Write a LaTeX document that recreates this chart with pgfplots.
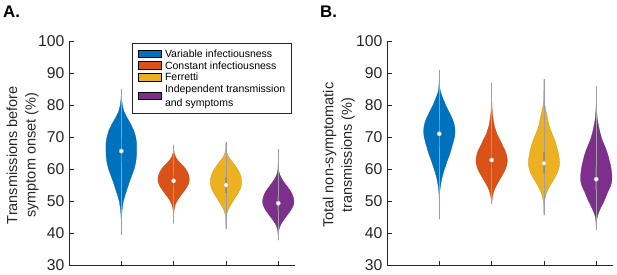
\documentclass[border=0pt]{standalone}
\usepackage{pgfplots}
\pgfplotsset{compat=1.18}
\usepackage{pgfplotstable}
\usepackage{fontspec}
\setmainfont{Liberation Sans}
\definecolor{vblue}{RGB}{0,114,189}
\definecolor{vorange}{RGB}{217,83,25}
\definecolor{vyellow}{RGB}{237,177,32}
\definecolor{vpurple}{RGB}{126,47,142}
\definecolor{axgray}{RGB}{38,38,38}

% Panel A violins: y, half-width
\pgfplotstableread{
y w
84.9 0
82 0.005
80 0.02
78 0.05
76 0.11
74 0.18
72 0.24
70 0.275
68 0.293
66 0.295
64 0.29
62 0.275
60 0.245
58 0.20
56 0.155
54 0.115
52 0.075
50 0.04
48 0.02
46 0.008
44 0.003
42 0.001
39.4 0
}\VAa
\pgfplotstableread{
y w
67.5 0
66 0.004
65 0.012
64 0.03
63 0.065
62 0.12
61 0.18
60 0.23
59 0.265
58 0.29
57 0.30
56 0.295
55 0.275
54 0.24
53 0.195
52 0.15
51 0.105
50 0.065
49 0.035
48 0.018
47 0.008
46 0.003
45 0.001
43 0
}\VAb
\pgfplotstableread{
y w
68.5 0
67 0.003
66 0.008
65 0.02
64 0.045
63 0.085
62 0.135
61 0.18
60 0.22
59 0.255
58 0.28
57 0.295
56 0.30
55 0.295
54 0.28
53 0.25
52 0.215
51 0.175
50 0.135
49 0.10
48 0.065
47 0.038
46 0.018
45 0.009
44 0.004
43 0.002
41.2 0
}\VAc
\pgfplotstableread{
y w
66.2 0
64 0.001
62 0.002
60 0.006
59 0.015
58 0.035
57 0.065
56 0.105
55 0.15
54 0.195
53 0.24
52 0.27
51 0.29
50 0.30
49 0.295
48 0.27
47 0.235
46 0.19
45 0.145
44 0.10
43 0.06
42 0.03
41 0.012
40 0.005
39 0.002
37.8 0
}\VAd
% Panel B violins
\pgfplotstableread{
y w
91.0 0
89 0.002
87 0.005
85 0.012
84 0.025
83 0.045
82 0.07
81 0.095
80 0.12
79 0.15
78 0.18
77 0.21
76 0.24
75 0.265
74 0.283
73 0.295
72 0.30
71 0.298
70 0.29
69 0.275
68 0.26
67 0.24
66 0.225
65 0.205
64 0.185
63 0.16
62 0.14
61 0.12
60 0.10
59 0.08
58 0.063
57 0.048
56 0.035
55 0.025
54 0.016
53 0.01
52 0.006
50 0.003
48 0.001
44.3 0
}\VBa
\pgfplotstableread{
y w
87 0
84 0.001
82 0.003
80 0.006
78 0.012
76 0.025
74 0.045
73 0.06
72 0.08
71 0.10
70 0.13
69 0.16
68 0.19
67 0.22
66 0.25
65 0.275
64 0.29
63 0.30
62 0.298
61 0.285
60 0.265
59 0.235
58 0.20
57 0.165
56 0.13
55 0.095
54 0.065
53 0.04
52 0.024
51 0.012
50 0.005
49.1 0
}\VBb
\pgfplotstableread{
y w
88.0 0
85 0.001
83 0.004
81 0.01
80 0.018
79 0.028
78 0.04
77 0.055
76 0.068
75 0.08
74 0.092
73 0.108
72 0.13
71 0.155
70 0.18
69 0.205
68 0.225
67 0.245
66 0.26
65 0.275
64 0.285
63 0.295
62 0.30
61 0.295
60 0.28
59 0.26
58 0.23
57 0.195
56 0.16
55 0.122
54 0.09
53 0.062
52 0.04
51 0.025
50 0.014
49 0.007
48 0.003
46 0.001
45.6 0
}\VBc
\pgfplotstableread{
y w
85.9 0
82 0.001
80 0.003
78 0.008
76 0.018
75 0.026
74 0.037
73 0.05
72 0.063
71 0.078
70 0.095
69 0.115
68 0.14
67 0.165
66 0.19
65 0.21
64 0.23
63 0.245
62 0.26
61 0.275
60 0.285
59 0.293
58 0.30
57 0.30
56 0.295
55 0.28
54 0.255
53 0.225
52 0.20
51 0.175
50 0.15
49 0.12
48 0.088
47 0.06
46 0.036
45 0.018
44 0.009
43 0.004
42 0.002
40.9 0
}\VBd

\pgfplotsset{
  violinaxis/.style={
    scale only axis, width=226pt, height=224pt,
    anchor=south west,
    xmin=0, xmax=4.32, ymin=30, ymax=100,
    xtick={1,2,3,4}, xticklabels={},
    ytick={30,40,50,60,70,80,90,100},
    axis x line*=bottom, axis y line*=left,
    axis line style={axgray, line width=0.6pt},
    tick style={axgray, line width=0.6pt},
    tick align=inside, major tick length=4.5pt,
    /pgf/number format/assume math mode=true,
    yticklabel style={font=\fontsize{15.7}{16}\selectfont, text=axgray, inner sep=0pt, xshift=-4.5pt},
    ylabel style={font=\fontsize{14.5}{18.5}\selectfont, text=axgray, align=center, anchor=center, inner sep=0pt},
    clip=false,
  },
}

\newcommand{\violin}[3]{% table, center, color
  \addplot[fill=#3, draw=none, forget plot] table[x expr=#2+\thisrow{w}, y=y] {#1};
  \addplot[fill=#3, draw=none, forget plot] table[x expr=#2-\thisrow{w}, y=y] {#1};
  \addplot[draw=#3!85!black, line width=0.25pt, forget plot] table[x expr=#2+\thisrow{w}, y=y] {#1};
  \addplot[draw=#3!85!black, line width=0.25pt, forget plot] table[x expr=#2-\thisrow{w}, y=y] {#1};
}
\newcommand{\stats}[6]{% center, min, max, q1, q3, median
  \addplot[gray!75, line width=0.7pt, forget plot] coordinates {(#1,#2) (#1,#3)};
  \addplot[gray, opacity=0.6, line width=1.6pt, forget plot] coordinates {(#1,#4) (#1,#5)};
  \addplot[only marks, mark=*, mark size=2.2pt, mark options={fill=white, draw=gray!60, line width=0.4pt}, forget plot] coordinates {(#1,#6)};
}

\begin{document}
\begin{tikzpicture}
\path[use as bounding box] (0pt,0pt) rectangle (617pt,274pt);
\node[anchor=base west, font=\bfseries\fontsize{16.8}{16.8}\selectfont, inner sep=0pt] at (3pt,257pt) {A.};
\node[anchor=base west, font=\bfseries\fontsize{16.8}{16.8}\selectfont, inner sep=0pt] at (320pt,257pt) {B.};

\begin{axis}[violinaxis, at={(69pt,9pt)},
  ylabel={Transmissions before\\symptom onset (\%)},
  ylabel style={at={(axis description cs:-0.205,0.49)}},
  legend image code/.code={\fill[#1] (0pt,-3.8pt) rectangle (22.7pt,3.8pt);},
  legend cell align=left,
  legend style={at={(rel axis cs:0.985,0.992)}, anchor=north east,
    font=\fontsize{10.5}{12.6}\selectfont, draw=axgray, line width=0.7pt,
    inner xsep=6pt, inner ysep=5.7pt, nodes={inner sep=0pt},
    column sep=3.3pt, row sep=1.3pt, cells={align=left}},
]
\addlegendimage{fill=vblue}
\addlegendentry{Variable infectiousness\strut}
\addlegendimage{fill=vorange}
\addlegendentry{Constant infectiousness\strut}
\addlegendimage{fill=vyellow}
\addlegendentry{Ferretti\strut}
\addlegendimage{fill=vpurple}
\addlegendentry{Independent transmission\strut\\[1.3pt]and symptoms\strut}
\violin{\VAa}{1}{vblue}
\violin{\VAb}{2}{vorange}
\violin{\VAc}{3}{vyellow}
\violin{\VAd}{4}{vpurple}
\stats{1}{39.4}{84.9}{61.9}{70.1}{65.6}
\stats{2}{43.0}{67.5}{54.8}{58.0}{56.3}
\stats{3}{41.2}{68.5}{52.5}{57.6}{55.0}
\stats{4}{37.8}{66.2}{47.2}{51.5}{49.3}
\end{axis}

\begin{axis}[violinaxis, at={(387pt,9pt)},
  ylabel={Total non-symptomatic\\transmissions (\%)},
  ylabel style={at={(axis description cs:-0.2135,0.49)}},
]
\violin{\VBa}{1}{vblue}
\violin{\VBb}{2}{vorange}
\violin{\VBc}{3}{vyellow}
\violin{\VBd}{4}{vpurple}
\stats{1}{44.3}{91.0}{67.0}{75.2}{71.0}
\stats{2}{49.1}{87.0}{60.3}{65.6}{62.8}
\stats{3}{45.6}{88.0}{58.8}{65.3}{61.8}
\stats{4}{40.9}{85.9}{53.5}{60.5}{56.8}
\end{axis}
\end{tikzpicture}
\end{document}
